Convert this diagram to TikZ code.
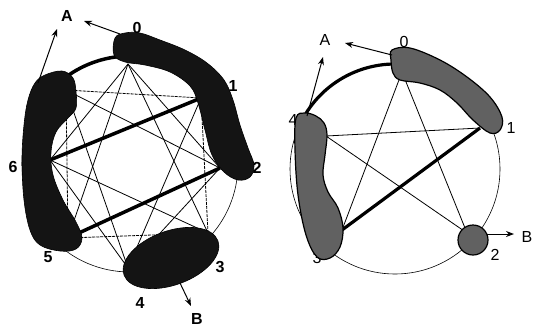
\documentclass[tikz,border=0pt]{standalone}
\usepackage{fontspec}
\setmainfont{Liberation Sans}
\usetikzlibrary{arrows.meta}
\begin{document}
\begin{tikzpicture}[x=1pt,y=-1pt,
 lbl/.style={font=\fontsize{16}{16}\selectfont\bfseries, inner sep=0pt},
 rlbl/.style={font=\fontsize{16}{16}\selectfont, inner sep=0pt},
 thinchord/.style={line width=0.8pt},
 dashchord/.style={line width=0.8pt, dash pattern=on 3pt off 1pt},
 heavy/.style={line width=3.5pt},
 rheavy/.style={line width=3.2pt},
 rim/.style={line width=0.6pt},
 darkblob/.style={fill=black!92, draw=black, line width=0.6pt},
 greyblob/.style={fill=black!62, draw=black, line width=1.2pt},
 arr/.style={line width=1pt, -{Stealth[length=8pt,width=6pt]}},
]
\useasboundingbox (0,0) rectangle (534,327);

% ---------------- left figure ----------------
\coordinate (L) at (130,164);
\coordinate (v0) at (128,64);
\coordinate (v1) at (201,98);
\coordinate (v2) at (220,168);
\coordinate (v3) at (208,233);
\coordinate (v4) at (128,268);
\coordinate (v5) at (68,238);
\coordinate (v6) at (50,160);
\coordinate (v7) at (66,90);

\node[lbl] (l0) at (137,28) {0};
\node[lbl] (l1) at (233,86) {1};
\node[lbl] (l2) at (257,168) {2};
\node[lbl] (l3) at (220,267) {3};
\node[lbl] (l4) at (140,303) {4};
\node[lbl] (l5) at (48,257) {5};
\node[lbl] (l6) at (13,167) {6};
\node[lbl] (lA) at (67,16) {A};
\node[lbl] (lB) at (197,319) {B};

\draw[rim] (L) circle[radius=108];
\draw[heavy] (L) ++(-95:108) arc[start angle=-95, end angle=-128, radius=108];

% square 1-3-5-7
\draw[dashchord] (v1) -- (v3) -- (v5) -- (v7) -- cycle;
% square 0-2-4-6
\draw[thinchord] (v0) -- (v2) -- (v4) -- (v6) -- cycle;
% star chords
\draw[thinchord] (v0) -- (v3);
\draw[thinchord] (v1) -- (v4);
\draw[thinchord] (v3) -- (v6);
\draw[thinchord] (v4) -- (v7);
\draw[thinchord] (v5) -- (v0);
\draw[thinchord] (v7) -- (v2);
\draw[heavy] (v2) -- (v5);
\draw[heavy] (v6) -- (v1);

% blobs
\draw[darkblob] plot[smooth cycle, tension=0.6] coordinates {
 (115,38) (125,33) (140,33) (160,40) (185,50) (207,63) (224,80) (233,100)
 (240,125) (248,148) (254,165) (250,177) (238,180) (224,172) (212,155)
 (205,130) (198,103) (190,86) (170,72) (145,65) (125,62) (114,55)};
\draw[darkblob] plot[smooth cycle, tension=0.6] coordinates {
 (45,75) (62,71) (73,78) (76,92) (76,108) (68,118) (56,132) (51,152)
 (53,175) (63,200) (76,222) (82,238) (76,249) (60,251) (40,245) (30,230)
 (24,200) (22,160) (24,125) (28,100) (35,83)};
\draw[darkblob, rotate around={20:(171,258)}] (171,258) ellipse[x radius=50, y radius=27];

\coordinate (a1s) at (120,34);
\coordinate (a1e) at (84,21);
\coordinate (a2s) at (38,83);
\coordinate (a2e) at (57,29);
\coordinate (b1s) at (180,283);
\coordinate (b1e) at (191,306);
\draw[arr] (a1s) -- (a1e);
\draw[arr] (a2s) -- (a2e);
\draw[arr] (b1s) -- (b1e);

% ---------------- right figure ----------------
\coordinate (R) at (395,169);
\coordinate (w0) at (402,72);
\coordinate (w1) at (480,128);
\coordinate (w2) at (467,233);
\coordinate (w3) at (342,230);
\coordinate (w4) at (326,136);

\node[rlbl] (m0) at (404,42) {0};
\node[rlbl] (m1) at (511,128) {1};
\node[rlbl] (m2) at (495,255) {2};
\node[rlbl] (m3) at (317,258) {3};
\node[rlbl] (m4) at (293,120) {4};
\node[rlbl] (mA) at (325,40) {A};
\node[rlbl] (mB) at (527,237) {B};

\draw[rim] (R) circle[radius=105];
\draw[rheavy] (R) ++(-91:105) arc[start angle=-91, end angle=-148, radius=105];

\draw[thinchord] (w4) -- (w1);
\draw[thinchord] (w4) -- (w2);
\draw[thinchord] (w0) -- (w3);
\draw[thinchord] (w0) -- (w2);
\draw[rheavy] (w3) -- (w1);

\draw[greyblob] plot[smooth cycle, tension=0.6] coordinates {
 (392,50) (410,48) (440,60) (467,77) (490,97) (502,117) (500,130) (490,133)
 (473,120) (457,103) (440,90) (420,83) (400,80) (393,73) (391,60)};
\draw[greyblob] plot[smooth cycle, tension=0.6] coordinates {
 (296,118) (305,113) (316,116) (324,123) (327,135) (325,155) (323,175)
 (328,192) (338,208) (343,228) (340,247) (330,258) (317,257) (306,235)
 (298,195) (295,150)};
\draw[greyblob] (473,240) circle[radius=15];

\coordinate (c1s) at (392,55);
\coordinate (c1e) at (345,43);
\coordinate (c2s) at (307,116);
\coordinate (c2e) at (323,57);
\coordinate (d1s) at (487,234);
\coordinate (d1e) at (514,234);
\draw[arr] (c1s) -- (c1e);
\draw[arr] (c2s) -- (c2e);
\draw[arr] (d1s) -- (d1e);
\end{tikzpicture}
\end{document}
